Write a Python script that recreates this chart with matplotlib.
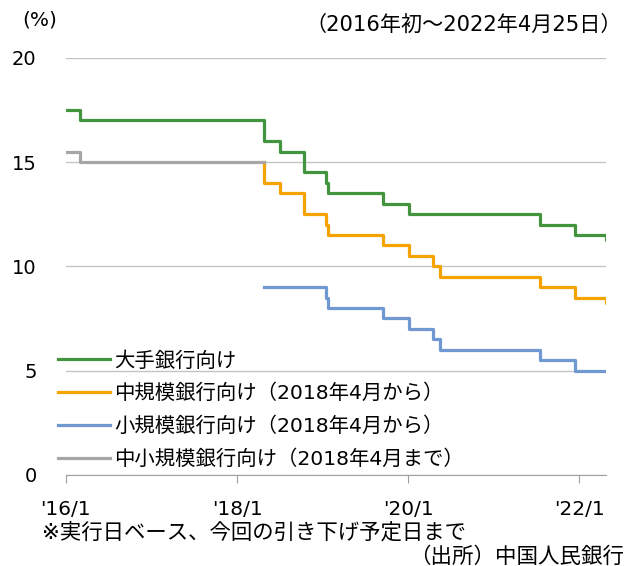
import pandas as pd
import matplotlib
matplotlib.use("Agg")
import matplotlib.pyplot as plt

plt.rcParams["font.family"] = ["DejaVu Sans", "Noto Sans CJK JP"]

# --- data (step changes, effective dates) ---
large_dates = ["2016-01-01", "2016-03-01", "2018-04-25", "2018-07-05", "2018-10-15",
               "2019-01-15", "2019-01-25", "2019-09-16", "2020-01-06", "2021-07-15",
               "2021-12-15", "2022-04-25", "2022-04-28"]
large_vals = [17.5, 17.0, 16.0, 15.5, 14.5, 14.0, 13.5, 13.0, 12.5, 12.0, 11.5, 11.25, 11.25]

# starts from the former small/medium ratio (15.0) on the switch date
mid_dates = ["2018-04-25", "2018-04-25", "2018-07-05", "2018-10-15", "2019-01-15",
             "2019-01-25", "2019-09-16", "2020-01-06", "2020-04-15", "2020-05-15",
             "2021-07-15", "2021-12-15", "2022-04-25", "2022-04-28"]
mid_vals = [15.0, 14.0, 13.5, 12.5, 12.0, 11.5, 11.0, 10.5, 10.0, 9.5, 9.0, 8.5, 8.25, 8.25]

small_dates = ["2018-04-25", "2019-01-15", "2019-01-25", "2019-09-16", "2020-01-06",
               "2020-04-15", "2020-05-15", "2021-07-15", "2021-12-15", "2022-04-28"]
small_vals = [9.0, 8.5, 8.0, 7.5, 7.0, 6.5, 6.0, 5.5, 5.0, 5.0]

sm_old_dates = ["2016-01-01", "2016-03-01", "2018-04-25"]
sm_old_vals = [15.5, 15.0, 15.0]

labels = ["大手銀行向け", "中規模銀行向け（2018年4月から）",
          "小規模銀行向け（2018年4月から）", "中小規模銀行向け（2018年4月まで）"]
colors = ["#43943f", "#f5a300", "#7098d2", "#a6a6a6"]

tick_dates = ["2016-01-01", "2018-01-01", "2020-01-01", "2022-01-01"]
tick_labels = ["'16/1", "'18/1", "'20/1", "'22/1"]

# --- plot ---
fig = plt.figure(figsize=(6.27, 5.66), dpi=100)
ax = fig.add_axes([0.105, 0.161, 0.862, 0.737])

series = [(large_dates, large_vals), (mid_dates, mid_vals),
          (small_dates, small_vals), (sm_old_dates, sm_old_vals)]
for (d, v), lab, c in zip(series, labels, colors):
    ax.step(pd.to_datetime(d), v, where="post", color=c, lw=2.3, label=lab)

ax.set_xlim(pd.Timestamp("2016-01-01"), pd.Timestamp("2022-04-26"))
ax.set_ylim(0, 20)
ax.set_yticks([0, 5, 10, 15, 20])
ax.set_xticks(pd.to_datetime(tick_dates))
ax.set_xticklabels(tick_labels)
ax.grid(axis="y", color="#c4c4c4", lw=1)
ax.set_axisbelow(True)
for s in ["left", "right", "top"]:
    ax.spines[s].set_visible(False)
ax.spines["bottom"].set_color("#a0a0a0")
ax.tick_params(axis="y", length=0, labelsize=14, pad=21)
ax.tick_params(axis="x", length=6, color="#a0a0a0", labelsize=14.5, pad=12)

ax.legend(loc="upper left", bbox_to_anchor=(0.092, 0.08, 0.5, 0.3),
          bbox_transform=fig.transFigure, frameon=False, fontsize=14.7,
          handlelength=2.55, handletextpad=0.22, labelspacing=0.65, borderaxespad=0,
          borderpad=0)

fig.text(0.035, 0.965, "(%)", fontsize=14.5, va="center")
fig.text(0.992, 0.957, "（2016年初～2022年4月25日）", fontsize=15.2, ha="right", va="center")
fig.text(0.067, 0.06, "※実行日ベース、今回の引き下げ予定日まで", fontsize=15.4, va="center")
fig.text(0.995, 0.017, "（出所）中国人民銀行", fontsize=15.5, ha="right", va="center")

fig.savefig("out.png", dpi=100)
plt.close(fig)
